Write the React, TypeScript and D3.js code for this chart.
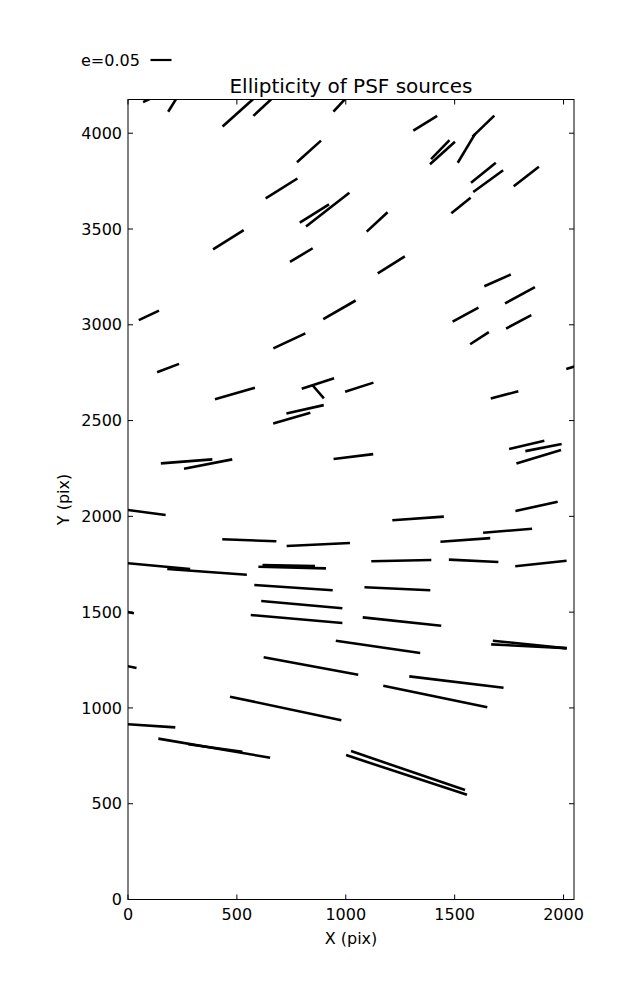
import React from 'react';
import * as d3 from 'd3';

// Source centres (pix), ellipticity and position angle (deg, screen)
const srcX = [119, 215, 506, 633, 990, 831, 705, 856, 917, 461, 796, 1365, 1434, 1444, 1554, 1632, 1632, 1654, 1829, 1529, 1144, 1209, 1697, 1800, 96, 971, 741, 184, 491, 872, 873, 1062, 813, 752, 269, 368, 1035, 1550, 1794, 1614, 2065, 1729, 1831, 1908, 1886, 59, 557, 874, 125, 363, 738, 754, 760, 798, 774, -40, 1148, -28, 840, 724, 1876, 1332, 1743, 1549, 1255, 1587, 1896, 1237, 1258, 1845, 1841, 1508, 1411, 91, 396, 401, 1286, 1279];
const srcY = [4189, 4168, 4108, 4151, 4170, 3905, 3712, 3581, 3601, 3444, 3364, 4052, 3914, 3897, 3921, 4037, 3794, 3750, 3774, 3623, 3537, 3313, 3232, 3154, 3049, 3078, 2916, 2774, 2641, 2693, 2651, 2674, 2559, 2513, 2287, 2273, 2312, 3053, 3015, 2930, 2787, 2634, 2373, 2359, 2311, 2024, 1875, 1853, 1742, 1710, 1743, 1733, 1628, 1539, 1464, 1508, 1319, 1224, 1219, 997, 2052, 1989, 1925, 1877, 1769, 1768, 1754, 1622, 1451, 1331, 1322, 1135, 1060, 908, 790, 791, 673, 650];
const srcE = [0.057, 0.060, 0.100, 0.081, 0.071, 0.077, 0.089, 0.082, 0.131, 0.086, 0.063, 0.067, 0.063, 0.080, 0.080, 0.072, 0.076, 0.088, 0.076, 0.059, 0.068, 0.076, 0.069, 0.081, 0.053, 0.089, 0.084, 0.056, 0.099, 0.081, 0.042, 0.071, 0.091, 0.092, 0.123, 0.117, 0.095, 0.070, 0.068, 0.053, 0.057, 0.068, 0.086, 0.088, 0.111, 0.119, 0.129, 0.151, 0.167, 0.190, 0.125, 0.161, 0.187, 0.194, 0.219, 0.071, 0.203, 0.071, 0.229, 0.271, 0.103, 0.123, 0.117, 0.119, 0.143, 0.118, 0.123, 0.157, 0.188, 0.177, 0.180, 0.226, 0.253, 0.131, 0.270, 0.130, 0.287, 0.303];
const srcTheta = [25, 58, 42, 43, 47, 42, 32, 32, 38, 32, 31, 32, 46, 42, 59, 44, 39, 36, 38, 39, 43, 32, 24, 28.5, 25, 30, 25, 21, 16, 18, -49, 18, 12.5, 16, 4.4, 11, 7, 28.7, 28, 33, 17, 15, 13, 11, 16.6, -7.6, -2.1, 2.7, -5.3, -4.1, -1.1, -1.4, -3.9, -5.1, -5.0, -10, -8.3, -11.4, -10.4, -12, 12.4, 4, 4.7, 4.2, 1.2, -2.7, 6.2, -2.6, -6.1, -5.9, -2.8, -6.9, -11.7, -3.7, -9.7, -7.8, -18.9, -18.2];

const xTicks = [0, 500, 1000, 1500, 2000];
const yTicks = [0, 500, 1000, 1500, 2000, 2500, 3000, 3500, 4000];
const xDomain = [0, 2048];
const yDomain = [0, 4176];
const keyE = 0.05;
const keyLabel = 'e=0.05';
const title = 'Ellipticity of PSF sources';
const xLabel = 'X (pix)';
const yLabel = 'Y (pix)';

export default function App() {
  const W = 637, H = 1000;
  const left = 128, right = 574, top = 99.5, bottom = 899.5;
  const x = d3.scaleLinear().domain(xDomain).range([left, right]);
  const y = d3.scaleLinear().domain(yDomain).range([bottom, top]);
  const eLen = d3.scaleLinear().domain([0, keyE]).range([0, 21]);
  const font = 'DejaVu Sans, sans-serif';
  const tickLen = 5;
  const sw = 2.6;

  const segs = srcX.map((sx, i) => {
    const cx = x(sx), cy = y(srcY[i]);
    const L = eLen(srcE[i]);
    const t = (srcTheta[i] * Math.PI) / 180;
    const dx = (L / 2) * Math.cos(t), dy = (L / 2) * Math.sin(t);
    return { x1: cx - dx, y1: cy + dy, x2: cx + dx, y2: cy - dy };
  });

  const keyL = eLen(keyE);

  return (
    <svg width={W} height={H} style={{ position: 'absolute', left: 0, top: 0, background: '#fff' }} fontFamily={font}>
      <rect x={0} y={0} width={W} height={H} fill="#fff" />
      <defs>
        <clipPath id="plotclip">
          <rect x={left} y={top} width={right - left} height={bottom - top} />
        </clipPath>
      </defs>
      <g clipPath="url(#plotclip)">
        {segs.map((s, i) => (
          <line key={i} x1={s.x1} y1={s.y1} x2={s.x2} y2={s.y2} stroke="#000" strokeWidth={sw} strokeLinecap="butt" />
        ))}
      </g>
      <rect x={left} y={top} width={right - left} height={bottom - top} fill="none" stroke="#000" strokeWidth={1} />
      {xTicks.map((t) => (
        <g key={'x' + t}>
          <line x1={x(t)} x2={x(t)} y1={bottom} y2={bottom - tickLen} stroke="#000" />
          <line x1={x(t)} x2={x(t)} y1={top} y2={top + tickLen} stroke="#000" />
          <text x={x(t)} y={bottom + 20} textAnchor="middle" fontSize={16}>{t}</text>
        </g>
      ))}
      {yTicks.map((t) => (
        <g key={'y' + t}>
          <line x1={left} x2={left + tickLen} y1={y(t)} y2={y(t)} stroke="#000" />
          <line x1={right} x2={right - tickLen} y1={y(t)} y2={y(t)} stroke="#000" />
          <text x={left - 6} y={y(t)} dy="0.35em" textAnchor="end" fontSize={16}>{t}</text>
        </g>
      ))}
      <text x={(left + right) / 2} y={944} textAnchor="middle" fontSize={16}>{xLabel}</text>
      <text transform={`translate(69,${(top + bottom) / 2}) rotate(-90)`} textAnchor="middle" fontSize={16}>{yLabel}</text>
      <text x={(left + right) / 2} y={93} textAnchor="middle" fontSize={20}>{title}</text>
      <text x={81} y={65.5} fontSize={16}>{keyLabel}</text>
      <line x1={150.5} x2={150.5 + keyL} y1={60} y2={60} stroke="#000" strokeWidth={2.2} />
    </svg>
  );
}
